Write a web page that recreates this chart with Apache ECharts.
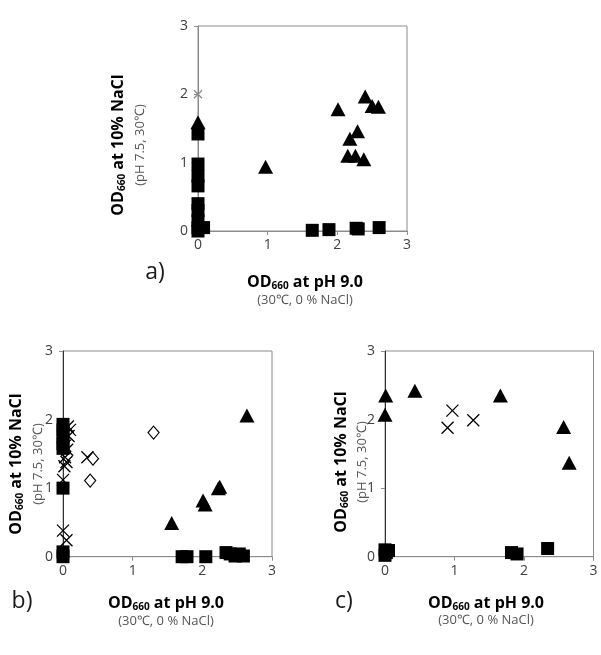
<!DOCTYPE html>
<html><head><meta charset="utf-8">
<script src="https://cdn.jsdelivr.net/npm/echarts@6/dist/echarts.min.js"></script>
<style>html,body{margin:0;padding:0;background:#fff}#c{width:601px;height:655px}</style>
</head><body><div id="c"></div>
<script>
// ---- data ----
const axisTicks = [0, 1, 2, 3];
// panel a
const aTriX = [0, 0.97, 2.01, 2.40, 2.50, 2.59, 2.18, 2.29, 2.15, 2.26, 2.38];
const aTriY = [1.59, 0.94, 1.78, 1.97, 1.83, 1.82, 1.35, 1.46, 1.10, 1.10, 1.05];
const aSqX = [0, 0, 0, 0, 0, 0, 0, 0, 0, 0.08, 1.64, 1.88, 2.27, 2.30, 2.60];
const aSqY = [1.42, 0.98, 0.80, 0.66, 0.40, 0.30, 0.15, 0.05, 0.0, 0.05, 0.01, 0.02, 0.04, 0.03, 0.05];
const aCrossX = [0];
const aCrossY = [2.0];
// panel b
const bTriX = [1.56, 2.01, 2.04, 2.23, 2.25, 2.64];
const bTriY = [0.49, 0.82, 0.76, 1.00, 1.02, 2.06];
const bSqX = [0, 0, 0, 0, 0, 0, 0, 0, 1.71, 1.78, 2.05, 2.34, 2.40, 2.47, 2.53, 2.59];
const bSqY = [1.93, 1.85, 1.75, 1.65, 1.58, 1.0, 0.07, 0.0, 0, 0, 0, 0.06, 0.04, 0.01, 0.04, 0.01];
const bCrossX = [0, 0.05, 0, 0.02, 0.05, 0.03, 0.06, 0.08, 0.10, 0.07, 0.03, 0.35];
const bCrossY = [0.38, 0.24, 1.12, 1.32, 1.38, 1.45, 1.56, 1.76, 1.85, 1.90, 1.62, 1.45];
const bDiaX = [0.43, 0.39, 1.30];
const bDiaY = [1.43, 1.11, 1.81];
// panel c
const cTriX = [0, 0.01, 0.43, 1.66, 2.57, 2.65];
const cTriY = [2.07, 2.35, 2.42, 2.35, 1.89, 1.37];
const cCrossX = [0.90, 0.97, 1.27];
const cCrossY = [1.88, 2.13, 1.99];
const cSqX = [0, 0.02, 0.05, 0.0, 1.82, 1.90, 2.34];
const cSqY = [0.02, 0.06, 0.09, 0.10, 0.06, 0.04, 0.12];

const FONT = '"Open Sans", Lato, sans-serif';
const zip = (xs, ys) => xs.map((x, i) => [x, ys[i]]);

const grids = [
  {left: 198, top: 26, width: 209, height: 205},
  {left: 63, top: 351, width: 209, height: 205.7},
  {left: 385, top: 351, width: 208.5, height: 205.7}
];
const leftColor = ['#888', '#333', '#333'];

const xAxes = grids.map((g, i) => ({
  gridIndex: i, type: 'value', min: axisTicks[0], max: axisTicks[axisTicks.length - 1], interval: 1,
  splitLine: {show: false},
  axisLine: {show: true, onZero: false, lineStyle: {color: '#8c8c8c', width: 1}},
  axisTick: {show: true, length: 4, inside: false, lineStyle: {color: '#8c8c8c'}},
  axisLabel: {fontFamily: FONT, fontSize: 14, color: '#404040', margin: 7}
}));
const yAxes = grids.map((g, i) => ({
  gridIndex: i, type: 'value', min: axisTicks[0], max: axisTicks[axisTicks.length - 1], interval: 1,
  splitLine: {show: false},
  axisLine: {show: true, onZero: false, lineStyle: {color: leftColor[i], width: 1}},
  axisTick: {show: true, length: 4, lineStyle: {color: '#8c8c8c'}},
  axisLabel: {fontFamily: FONT, fontSize: 14, color: '#404040', margin: 10}
}));

const crossPath = 'path://M0,0L10,10M10,0L0,10';
function sq(i, xs, ys) {
  return {type: 'scatter', xAxisIndex: i, yAxisIndex: i, data: zip(xs, ys), symbol: 'rect', symbolSize: 13,
    itemStyle: {color: '#000', opacity: 1}, clip: false, z: 3};
}
function tri(i, xs, ys) {
  return {type: 'scatter', xAxisIndex: i, yAxisIndex: i, data: zip(xs, ys), symbol: 'triangle', symbolSize: [15, 14],
    itemStyle: {color: '#000', opacity: 1}, clip: false, z: 3};
}
function cross(i, xs, ys, size, color) {
  return {type: 'scatter', xAxisIndex: i, yAxisIndex: i, data: zip(xs, ys), symbol: crossPath, symbolSize: size,
    itemStyle: {color: 'none', borderColor: color, borderWidth: 1.3, opacity: 1}, clip: false, z: 4};
}
function dia(i, xs, ys) {
  return {type: 'scatter', xAxisIndex: i, yAxisIndex: i, data: zip(xs, ys), symbol: 'diamond', symbolSize: [11, 13],
    itemStyle: {color: '#fff', borderColor: '#000', borderWidth: 1.2, opacity: 1}, clip: false, z: 4};
}

const series = [
  tri(0, aTriX, aTriY), sq(0, aSqX, aSqY), cross(0, aCrossX, aCrossY, 8, '#888'),
  tri(1, bTriX, bTriY), sq(1, bSqX, bSqY), cross(1, bCrossX, bCrossY, 12, '#000'), dia(1, bDiaX, bDiaY),
  tri(2, cTriX, cTriY), sq(2, cSqX, cSqY), cross(2, cCrossX, cCrossY, 12, '#000')
];

const rich = {
  b: {fontFamily: FONT, fontSize: 16, fontWeight: 'bold', color: '#111', lineHeight: 18, verticalAlign: 'middle'},
  s: {fontFamily: FONT, fontSize: 10, fontWeight: 'bold', color: '#111', lineHeight: 6, verticalAlign: 'bottom'}
};
function yTitle(x1, x2, y) {
  return [
    {type: 'text', x: x1, y: y, rotation: Math.PI / 2,
      style: {text: '{b|OD}{s|660}{b| at 10% NaCl}', rich: rich, align: 'center', verticalAlign: 'middle'}},
    {type: 'text', x: x2, y: y, rotation: Math.PI / 2,
      style: {text: '(pH 7.5, 30℃)', fontFamily: FONT, fontSize: 13, fill: '#555', align: 'center', verticalAlign: 'middle'}}
  ];
}
function xTitle(x, y1, y2) {
  return [
    {type: 'text', x: x, y: y1,
      style: {text: '{b|OD}{s|660}{b| at pH 9.0}', rich: rich, align: 'center', verticalAlign: 'middle'}},
    {type: 'text', x: x, y: y2,
      style: {text: '(30℃, 0 % NaCl)', fontFamily: FONT, fontSize: 13, fill: '#555', align: 'center', verticalAlign: 'middle'}}
  ];
}
function label(t, x, y) {
  return {type: 'text', x: x, y: y, style: {text: t, fontFamily: FONT, fontSize: 23, fill: '#1a1a1a', align: 'center', verticalAlign: 'middle'}};
}

const graphic = [].concat(
  yTitle(118, 140, 145), xTitle(305, 282, 300), [label('a)', 155, 272)],
  yTitle(16, 38, 464), xTitle(166, 603, 621), [label('b)', 22, 601)],
  yTitle(341, 362, 462), xTitle(486, 603, 620), [label('c)', 344, 601)]
);

const chart = echarts.init(document.getElementById('c'), null, {renderer: 'canvas'});
chart.setOption({
  animation: false,
  backgroundColor: '#fff',
  grid: grids.map(g => Object.assign({show: true, borderColor: '#8c8c8c', borderWidth: 1, backgroundColor: 'transparent'}, g)),
  xAxis: xAxes,
  yAxis: yAxes,
  series: series,
  graphic: graphic
});
</script>
</body></html>
